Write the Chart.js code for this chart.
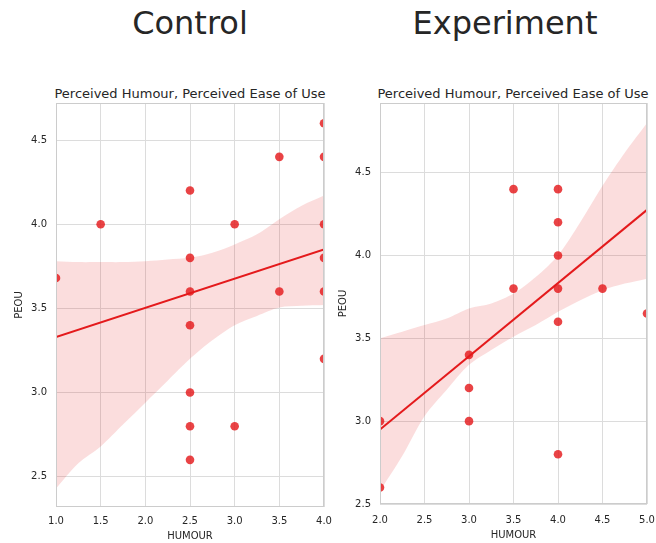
<!DOCTYPE html>
<html>
<head>
<meta charset="utf-8">
<script src="https://cdn.jsdelivr.net/npm/chart.js@4.4.0/dist/chart.umd.min.js"></script>
<style>
  body { margin: 0; background: #fff; width: 656px; height: 543px; position: relative; overflow: hidden; font-family: "DejaVu Sans", sans-serif; }
  .sup { position: absolute; top: 7px; font-size: 32px; line-height: 32px; color: #262626; transform: translateX(-50%); white-space: nowrap; }
  .sub { position: absolute; top: 87px; font-size: 13px; line-height: 13px; color: #262626; transform: translateX(-50%); white-space: nowrap; }
  .box { position: absolute; top: 0; height: 543px; }
</style>
</head>
<body>
<div class="sup" style="left:190px">Control</div>
<div class="sup" style="left:505px">Experiment</div>
<div class="sub" style="left:190px">Perceived Humour, Perceived Ease of Use</div>
<div class="sub" style="left:513px">Perceived Humour, Perceived Ease of Use</div>
<div class="box" style="left:0; width:340px"><canvas id="chart-control"></canvas></div>
<div class="box" style="left:324px; width:342px"><canvas id="chart-experiment"></canvas></div>

<script>
// Control group: HUMOUR vs PEOU
const controlHumour = [1.0, 1.5, 2.5, 2.5, 2.5, 2.5, 2.5, 2.5, 2.5, 3.0, 3.0, 3.5, 3.5, 4.0, 4.0, 4.0, 4.0, 4.0, 4.0];
const controlPeou   = [3.68, 4.0, 4.2, 3.8, 3.6, 3.4, 3.0, 2.8, 2.6, 4.0, 2.8, 4.4, 3.6, 4.6, 4.4, 4.0, 3.8, 3.6, 3.2];
const controlFitX = [1.0, 4.0];
const controlFitY = [3.33, 3.85];
const controlBandX     = [1.0, 1.25, 1.5, 1.75, 2.0, 2.25, 2.5, 2.75, 3.0, 3.25, 3.5, 3.75, 4.0];
const controlBandUpper = [3.78, 3.775, 3.775, 3.775, 3.78, 3.79, 3.80, 3.83, 3.88, 3.94, 4.03, 4.11, 4.17];
const controlBandLower = [2.43, 2.58, 2.68, 2.81, 2.94, 3.07, 3.20, 3.31, 3.40, 3.455, 3.505, 3.515, 3.52];

// Experiment group
const expHumour = [2.0, 2.0, 3.0, 3.0, 3.0, 3.5, 3.5, 4.0, 4.0, 4.0, 4.0, 4.0, 4.0, 4.5, 5.0];
const expPeou   = [3.0, 2.6, 3.4, 3.2, 3.0, 4.4, 3.8, 4.4, 4.2, 4.0, 3.8, 3.6, 2.8, 3.8, 3.65];
const expFitX = [2.0, 5.0];
const expFitY = [2.95, 4.275];
const expBandX     = [2.0, 2.25, 2.5, 2.75, 3.0, 3.25, 3.5, 3.75, 4.0, 4.25, 4.5, 4.75, 5.0];
const expBandUpper = [3.50, 3.54, 3.58, 3.62, 3.68, 3.71, 3.77, 3.87, 4.00, 4.20, 4.42, 4.62, 4.80];
const expBandLower = [2.58, 2.79, 3.03, 3.19, 3.34, 3.43, 3.51, 3.58, 3.66, 3.73, 3.79, 3.83, 3.86];

const RED = '#e41a1c';
const TEXT = '#262626';
const FONT = '"DejaVu Sans", sans-serif';

function xy(xs, ys) {
  return xs.map((x, i) => ({ x: x, y: ys[i] }));
}

// draws the four spines like seaborn whitegrid
const framePlugin = {
  id: 'frame',
  afterDatasetsDraw(chart) {
    const a = chart.chartArea;
    const ctx = chart.ctx;
    ctx.save();
    ctx.strokeStyle = '#cccccc';
    ctx.lineWidth = 1;
    ctx.strokeRect(a.left + 0.5, a.top + 0.5, a.right - a.left - 1, a.bottom - a.top - 1);
    ctx.restore();
  }
};

function makeChart(id, cfg) {
  return new Chart(document.getElementById(id), {
    type: 'scatter',
    data: {
      datasets: [
        {
          type: 'line',
          data: xy(cfg.bandX, cfg.lower),
          borderWidth: 0,
          pointRadius: 0,
          tension: 0.3,
          fill: false,
          clip: 0,
          order: 3
        },
        {
          type: 'line',
          data: xy(cfg.bandX, cfg.upper),
          borderWidth: 0,
          pointRadius: 0,
          tension: 0.3,
          fill: '-1',
          backgroundColor: 'rgba(228, 26, 28, 0.15)',
          clip: 0,
          order: 2
        },
        {
          type: 'line',
          data: xy(cfg.fitX, cfg.fitY),
          borderColor: RED,
          borderWidth: 2,
          pointRadius: 0,
          fill: false,
          clip: 0,
          order: 1
        },
        {
          data: xy(cfg.xs, cfg.ys),
          backgroundColor: 'rgba(228, 26, 28, 0.82)',
          borderWidth: 0,
          pointRadius: 4.3,
          clip: 0,
          order: 0
        }
      ]
    },
    options: {
      responsive: true,
      maintainAspectRatio: false,
      animation: false,
      layout: { padding: { top: 103, left: 0, right: cfg.padRight, bottom: 0 } },
      plugins: {
        legend: { display: false },
        tooltip: { enabled: false }
      },
      scales: {
        x: {
          type: 'linear',
          min: cfg.xMin,
          max: cfg.xMax,
          border: { display: false },
          grid: { color: '#dcdcdc', drawTicks: false },
          ticks: {
            stepSize: 0.5,
            includeBounds: false,
            padding: cfg.xTickPad,
            color: TEXT,
            font: { family: FONT, size: 10 },
            callback: v => v.toFixed(1)
          },
          title: {
            display: true,
            text: 'HUMOUR',
            color: TEXT,
            font: { family: FONT, size: 10 },
            padding: { top: 0, bottom: cfg.xTitlePad }
          },
          afterFit: s => { s.height = cfg.xAxisH; }
        },
        y: {
          type: 'linear',
          min: cfg.yMin,
          max: cfg.yMax,
          border: { display: false },
          grid: { color: '#dcdcdc', drawTicks: false },
          ticks: {
            stepSize: 0.5,
            includeBounds: false,
            padding: 9,
            color: TEXT,
            font: { family: FONT, size: 10 },
            callback: v => v.toFixed(1)
          },
          title: {
            display: true,
            text: 'PEOU',
            color: TEXT,
            font: { family: FONT, size: 10 },
            padding: { top: 13, bottom: 0 }
          },
          afterFit: s => { s.width = 56; }
        }
      }
    },
    plugins: [framePlugin]
  });
}

makeChart('chart-control', {
  xs: controlHumour, ys: controlPeou,
  fitX: controlFitX, fitY: controlFitY,
  bandX: controlBandX, upper: controlBandUpper, lower: controlBandLower,
  xMin: 1.0, xMax: 4.0, yMin: 2.32, yMax: 4.72,
  padRight: 16, xAxisH: 36, xTickPad: 8, xTitlePad: 1
});

makeChart('chart-experiment', {
  xs: expHumour, ys: expPeou,
  fitX: expFitX, fitY: expFitY,
  bandX: expBandX, upper: expBandUpper, lower: expBandLower,
  xMin: 2.0, xMax: 5.0, yMin: 2.5, yMax: 4.92,
  padRight: 19, xAxisH: 39, xTickPad: 10, xTitlePad: 2
});
</script>
</body>
</html>
